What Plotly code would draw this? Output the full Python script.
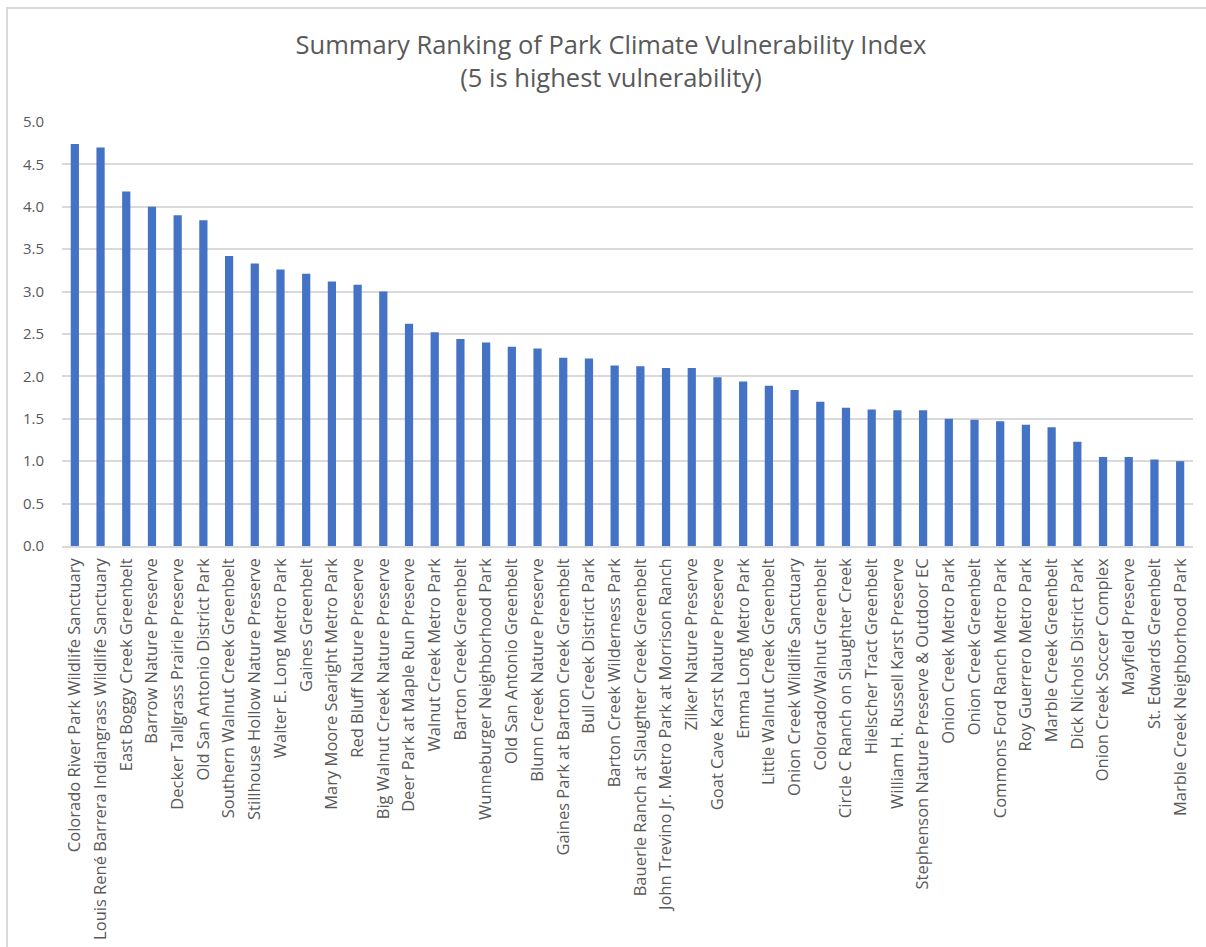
import plotly.graph_objects as go

parks = [
    "Colorado River Park Wildlife Sanctuary",
    "Louis René Barrera Indiangrass Wildlife Sanctuary",
    "East Boggy Creek Greenbelt",
    "Barrow Nature Preserve",
    "Decker Tallgrass Prairie Preserve",
    "Old San Antonio District Park",
    "Southern Walnut Creek Greenbelt",
    "Stillhouse Hollow Nature Preserve",
    "Walter E. Long Metro Park",
    "Gaines Greenbelt",
    "Mary Moore Searight Metro Park",
    "Red Bluff Nature Preserve",
    "Big Walnut Creek Nature Preserve",
    "Deer Park at Maple Run Preserve",
    "Walnut Creek Metro Park",
    "Barton Creek Greenbelt",
    "Wunneburger Neighborhood Park",
    "Old San Antonio Greenbelt",
    "Blunn Creek Nature Preserve",
    "Gaines Park at Barton Creek Greenbelt",
    "Bull Creek District Park",
    "Barton Creek Wilderness Park",
    "Bauerle Ranch at Slaughter Creek Greenbelt",
    "John Trevino Jr. Metro Park at Morrison Ranch",
    "Zilker Nature Preserve",
    "Goat Cave Karst Nature Preserve",
    "Emma Long Metro Park",
    "Little Walnut Creek Greenbelt",
    "Onion Creek Wildlife Sanctuary",
    "Colorado/Walnut Greenbelt",
    "Circle C Ranch on Slaughter Creek",
    "Hielscher Tract Greenbelt",
    "William H. Russell Karst Preserve",
    "Stephenson Nature Preserve & Outdoor EC",
    "Onion Creek Metro Park",
    "Onion Creek Greenbelt",
    "Commons Ford Ranch Metro Park",
    "Roy Guerrero Metro Park",
    "Marble Creek Greenbelt",
    "Dick Nichols District Park",
    "Onion Creek Soccer Complex",
    "Mayfield Preserve",
    "St. Edwards Greenbelt",
    "Marble Creek Neighborhood Park",
]

scores = [
    4.74, 4.70, 4.18, 4.00, 3.90, 3.84, 3.42, 3.33, 3.26, 3.21, 3.12,
    3.08, 3.00, 2.62, 2.52, 2.44, 2.40, 2.35, 2.33, 2.22, 2.21, 2.13,
    2.12, 2.10, 2.10, 1.99, 1.94, 1.89, 1.84, 1.70, 1.63, 1.61, 1.60,
    1.60, 1.50, 1.49, 1.47, 1.43, 1.40, 1.23, 1.05, 1.05, 1.02, 1.00,
]

y_ticks = [0, 0.5, 1.0, 1.5, 2.0, 2.5, 3.0, 3.5, 4.0, 4.5, 5.0]

title_text = "Summary Ranking of Park Climate Vulnerability Index<br>(5 is highest vulnerability)"

FONT = "Open Sans"
GREY = "#595959"
GRID = "#d9d9d9"

fig = go.Figure(
    go.Bar(
        x=parks,
        y=scores,
        marker=dict(color="#4472C4", line=dict(width=0)),
    )
)

fig.update_layout(
    width=1206,
    height=947,
    paper_bgcolor="white",
    plot_bgcolor="white",
    margin=dict(l=62, r=13, t=122, b=401, autoexpand=False),
    bargap=0.68,
    showlegend=False,
    title=dict(
        text=title_text,
        x=611 / 1206,
        xanchor="center",
        xref="container",
        y=1 - 54 / 947,
        yanchor="top",
        yref="container",
        font=dict(family=FONT, size=25.5, color=GREY),
    ),
    font=dict(family=FONT, color=GREY),
    shapes=[
        dict(
            type="rect",
            xref="paper",
            yref="paper",
            x0=(7 - 62) / 1131,
            x1=1.5,
            y0=-2,
            y1=(546 - 8) / 424,
            line=dict(color=GRID, width=2),
            fillcolor="rgba(0,0,0,0)",
            layer="below",
        )
    ],
)

fig.update_yaxes(
    range=[0, 5],
    tickvals=y_ticks,
    ticktext=[f"{v:.1f}" for v in y_ticks],
    showgrid=True,
    gridcolor=GRID,
    gridwidth=1.5,
    zeroline=False,
    showline=False,
    ticks="",
    automargin=False,
    ticklabelstandoff=17,
    tickfont=dict(family=FONT, size=15, color=GREY),
)

fig.update_xaxes(
    tickangle=-90,
    showgrid=False,
    showline=True,
    linecolor=GRID,
    linewidth=1.5,
    ticks="",
    automargin=False,
    ticklabelstandoff=4,
    tickfont=dict(family=FONT, size=16.5, color=GREY),
)

fig.write_html(
    "out.html",
    config={"displayModeBar": False},
    post_script="document.body.style.margin='0';document.body.style.overflow='hidden';",
)
